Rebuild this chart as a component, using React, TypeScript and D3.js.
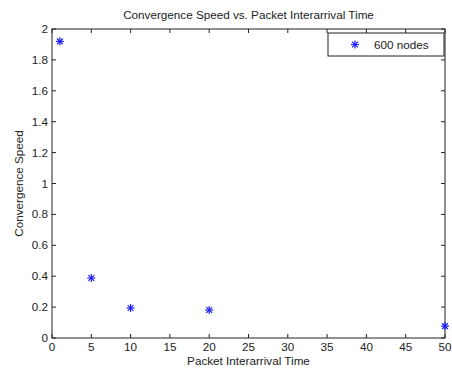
import React from "react";
import * as d3 from "d3";

const xValues = [1, 5, 10, 20, 50];
const yValues = [1.92, 0.388, 0.194, 0.181, 0.077];
const xTicks = [0, 5, 10, 15, 20, 25, 30, 35, 40, 45, 50];
const yTicks = [0, 0.2, 0.4, 0.6, 0.8, 1, 1.2, 1.4, 1.6, 1.8, 2];
const seriesName = "600 nodes";
const title = "Convergence Speed vs. Packet Interarrival Time";
const xLabel = "Packet Interarrival Time";
const yLabel = "Convergence Speed";

const W = 452, H = 371;
const L = 52, R = 445, T = 29, B = 338;
const font = "Liberation Sans, Arial, sans-serif";
const fs = 11.7;
const blue = "#1f1ff0";

function Star({ cx, cy, s = 4 }: { cx: number; cy: number; s?: number }) {
  const d = s * 0.72;
  return (
    <g stroke={blue} strokeWidth={1.2}>
      <line x1={cx - s} y1={cy} x2={cx + s} y2={cy} />
      <line x1={cx} y1={cy - s} x2={cx} y2={cy + s} />
      <line x1={cx - d} y1={cy - d} x2={cx + d} y2={cy + d} />
      <line x1={cx - d} y1={cy + d} x2={cx + d} y2={cy - d} />
    </g>
  );
}

export default function App() {
  const x = d3.scaleLinear().domain([0, 50]).range([L, R]);
  const y = d3.scaleLinear().domain([0, 2]).range([B, T]);
  const tl = 4;
  return (
    <svg width={W} height={H} style={{ position: "absolute", left: 0, top: 0, background: "#fff" }}>
      <rect x={0} y={0} width={W} height={H} fill="#fff" />
      <text x={(L + R) / 2} y={19} textAnchor="middle" fontFamily={font} fontSize={fs} fill="#222">{title}</text>
      <rect x={L} y={T} width={R - L} height={B - T} fill="#fff" stroke="#222" strokeWidth={1} />
      {xTicks.map((t) => (
        <g key={"x" + t}>
          <line x1={x(t)} x2={x(t)} y1={B} y2={B - tl} stroke="#222" />
          <line x1={x(t)} x2={x(t)} y1={T} y2={T + tl} stroke="#222" />
          <text x={x(t)} y={B + 13} textAnchor="middle" fontFamily={font} fontSize={fs} fill="#222">{t}</text>
        </g>
      ))}
      {yTicks.map((t) => (
        <g key={"y" + t}>
          <line x1={L} x2={L + tl} y1={y(t)} y2={y(t)} stroke="#222" />
          <line x1={R} x2={R - tl} y1={y(t)} y2={y(t)} stroke="#222" />
          <text x={L - 4} y={y(t) + 4} textAnchor="end" fontFamily={font} fontSize={fs} fill="#222">{d3.format("")(+t.toFixed(1))}</text>
        </g>
      ))}
      <text x={(L + R) / 2} y={365} textAnchor="middle" fontFamily={font} fontSize={fs} fill="#222">{xLabel}</text>
      <text transform={`translate(23,${(T + B) / 2}) rotate(-90)`} textAnchor="middle" fontFamily={font} fontSize={fs} fill="#222">{yLabel}</text>
      {xValues.map((v, i) => (
        <Star key={i} cx={x(v)} cy={y(yValues[i])} />
      ))}
      <rect x={328} y={33} width={116} height={23} fill="#fff" stroke="#222" strokeWidth={1} />
      <Star cx={355} cy={44.5} />
      <text x={374} y={48.5} fontFamily={font} fontSize={fs} fill="#222">{seriesName}</text>
    </svg>
  );
}
